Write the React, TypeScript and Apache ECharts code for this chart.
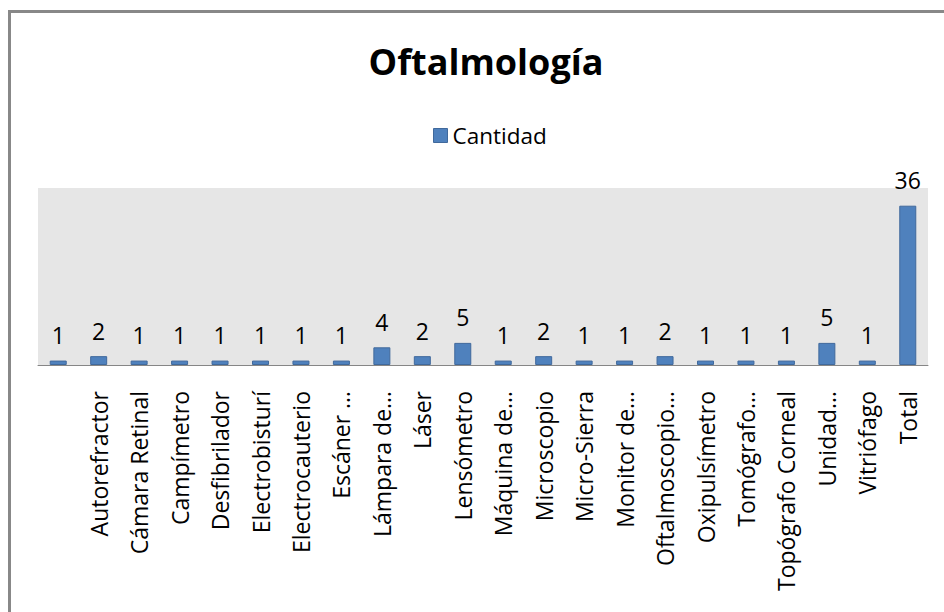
import React, { useEffect, useRef } from "react";
import * as echarts from "echarts";

const categories: string[] = [
  "",
  "Autorefractor",
  "Cámara Retinal",
  "Campímetro",
  "Desfibrilador",
  "Electrobisturí",
  "Electrocauterio",
  "Escáner …",
  "Lámpara de…",
  "Láser",
  "Lensómetro",
  "Máquina de…",
  "Microscopio",
  "Micro-Sierra",
  "Monitor de…",
  "Oftalmoscopio…",
  "Oxipulsímetro",
  "Tomógrafo…",
  "Topógrafo Corneal",
  "Unidad…",
  "Vitriófago",
  "Total",
];

const cantidad: number[] = [1, 2, 1, 1, 1, 1, 1, 1, 4, 2, 5, 1, 2, 1, 1, 2, 1, 1, 1, 5, 1, 36];

const seriesName = "Cantidad";
const chartTitle = "Oftalmología";

const FONT = "'Open Sans', 'Noto Sans', sans-serif";

export default function App() {
  const ref = useRef<HTMLDivElement>(null);

  useEffect(() => {
    if (!ref.current) return;
    const chart = echarts.init(ref.current, undefined, { renderer: "svg" });
    chart.setOption({
      animation: false,
      backgroundColor: "#ffffff",
      textStyle: { fontFamily: FONT },
      title: {
        text: chartTitle,
        left: 481,
        top: 38,
        textAlign: "center",
        textStyle: { fontFamily: FONT, fontSize: 36, fontWeight: "bold", color: "#000000" },
      },
      legend: {
        data: [seriesName],
        left: 428,
        top: 119,
        itemWidth: 14,
        itemHeight: 14,
        icon: "rect",
        itemGap: 6,
        textStyle: { fontFamily: FONT, fontSize: 22.5, color: "#000000" },
        itemStyle: { borderColor: "#40699c", borderWidth: 1 },
      },
      grid: {
        left: 38,
        right: 16,
        top: 188,
        bottom: 247,
        show: true,
        backgroundColor: "#e6e6e6",
        borderWidth: 0,
        containLabel: false,
      },
      xAxis: {
        type: "category",
        data: categories,
        axisLine: { show: true, lineStyle: { color: "#868686", width: 1 } },
        axisTick: { show: false },
        axisLabel: {
          interval: 0,
          rotate: 90,
          margin: 26,
          fontFamily: FONT,
          fontSize: 23,
          color: "#000000",
        },
      },
      yAxis: {
        type: "value",
        min: 0,
        max: 40,
        show: false,
        splitLine: { show: false },
      },
      series: [
        {
          name: seriesName,
          type: "bar",
          data: cantidad,
          barWidth: 17,
          itemStyle: { color: "#4f81bd", borderColor: "#40699c", borderWidth: 1 },
          label: {
            show: true,
            position: "top",
            distance: 14,
            fontFamily: FONT,
            fontSize: 23,
            color: "#000000",
          },
        },
      ],
      graphic: [
        {
          type: "rect",
          shape: { x: 9.5, y: 11.5, width: 1000, height: 700 },
          style: { fill: "none", stroke: "#888888", lineWidth: 3 },
          silent: true,
        },
      ],
    });
    return () => chart.dispose();
  }, []);

  return (
    <div
      ref={ref}
      style={{ position: "fixed", left: 0, top: 0, width: 944, height: 612 }}
    />
  );
}
